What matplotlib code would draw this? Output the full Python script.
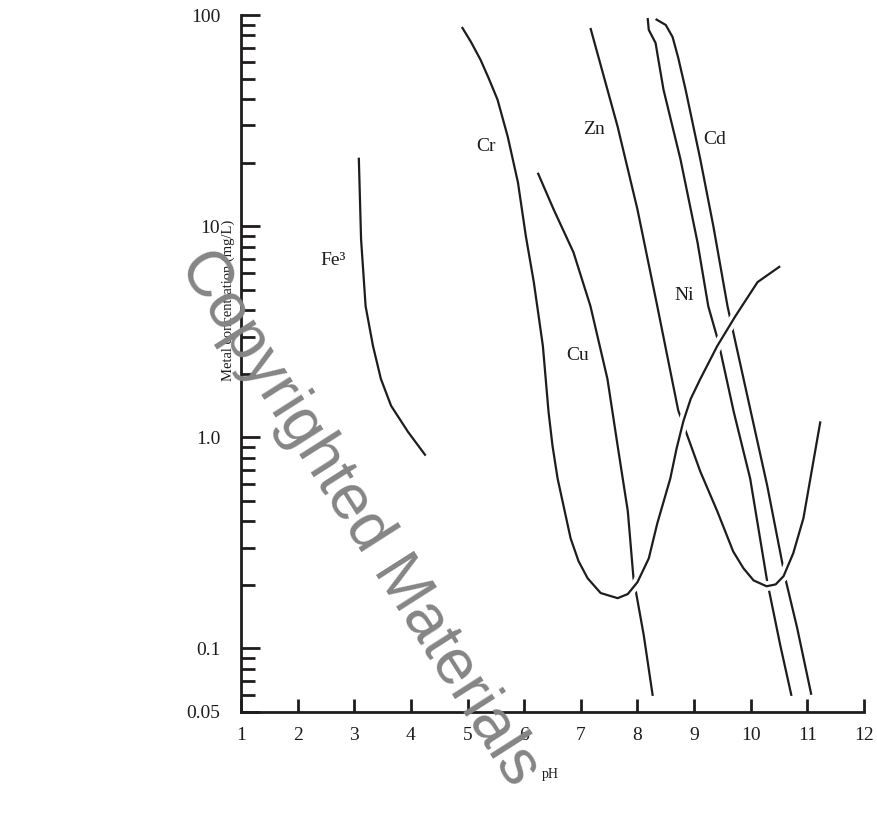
import matplotlib
matplotlib.use("Agg")
import matplotlib.pyplot as plt
import matplotlib.patheffects as pe
from matplotlib.ticker import LogLocator, NullFormatter

plt.rcParams['font.family'] = ['Liberation Serif', 'DejaVu Serif']

# curves (pH, metal concentration mg/L)
fe_ph = [3.08, 3.12, 3.20, 3.33, 3.47, 3.65, 3.95, 4.26]
fe_c = [21.1, 8.67, 4.18, 2.71, 1.89, 1.41, 1.06, 0.819]

cr_ph = [4.90, 5.06, 5.23, 5.37, 5.53, 5.71, 5.89, 6.03, 6.17, 6.33, 6.38, 6.43, 6.50,
         6.59, 6.82, 6.96, 7.12, 7.35, 7.65, 7.83, 8.00, 8.20, 8.35, 8.58, 8.69, 8.81,
         8.94, 9.11, 9.41, 9.73, 10.12, 10.52]
cr_c = [87.7, 74.6, 61.3, 50.4, 39.7, 26.5, 16.1, 8.95, 5.43, 2.71, 1.89, 1.32, 0.912,
        0.638, 0.332, 0.259, 0.215, 0.183, 0.173, 0.181, 0.206, 0.267, 0.391, 0.638, 0.883, 1.19,
        1.52, 1.89, 2.71, 3.75, 5.43, 6.46]

cu_ph = [6.24, 6.52, 6.87, 7.17, 7.47, 7.65, 7.83, 7.93, 8.11, 8.27]
cu_c = [17.9, 12.0, 7.52, 4.18, 1.89, 0.912, 0.446, 0.215, 0.116, 0.0596]

zn_ph = [7.17, 7.65, 8.00, 8.35, 8.72, 9.11, 9.41, 9.69, 9.87, 10.05, 10.28, 10.44,
         10.58, 10.75, 10.93, 11.23]
zn_c = [86.8, 29.6, 12.0, 4.18, 1.34, 0.688, 0.446, 0.288, 0.240, 0.210, 0.197, 0.201,
        0.220, 0.282, 0.413, 1.19]

ni_ph = [8.18, 8.20, 8.32, 8.37, 8.46, 8.76, 9.06, 9.25, 9.43, 9.70, 9.99, 10.29, 10.52, 10.72]
ni_c = [96.8, 85.0, 73.7, 61.3, 44.3, 20.7, 8.39, 4.18, 2.83, 1.32, 0.638, 0.208, 0.104, 0.0596]

cd_ph = [8.32, 8.50, 8.62, 8.72, 8.85, 9.11, 9.34, 9.59, 9.94, 10.29, 10.61, 10.82, 11.07]
cd_c = [95.7, 89.7, 78.7, 62.7, 44.3, 20.7, 10.0, 4.18, 1.57, 0.592, 0.215, 0.125, 0.0603]

# curve labels
label_text = ['Fe³', 'Cr', 'Cu', 'Zn', 'Ni', 'Cd']
label_ph = [2.62, 5.32, 6.94, 7.24, 8.83, 9.36]
label_c = [6.84, 23.8, 2.44, 28.7, 4.67, 25.7]

ytick_vals = [0.05, 0.1, 1, 10, 100]
ytick_text = ['0.05', '0.1', '1.0', '10', '100']
xtick_vals = list(range(1, 13))

ink = '#1e1c1c'

fig = plt.figure(figsize=(8.77, 8.25), dpi=100)
ax = fig.add_axes([241 / 877, 1 - 712 / 825, 623 / 877, 697 / 825])

halo = [pe.Stroke(linewidth=7, foreground='white'), pe.Normal()]
line_kw = dict(color=ink, lw=1.6, clip_on=False, solid_joinstyle='round',
               solid_capstyle='butt')

# lower curves first, the ones drawn on top get a white halo so crossings show gaps
ax.plot(fe_ph, fe_c, **line_kw)
ax.plot(ni_ph, ni_c, **line_kw)
ax.plot(cd_ph, cd_c, **line_kw)
ax.plot(cu_ph, cu_c, **line_kw)
ax.plot(zn_ph, zn_c, path_effects=halo, **line_kw)
ax.plot(cr_ph, cr_c, path_effects=halo, **line_kw)

for t, px, cy in zip(label_text, label_ph, label_c):
    ax.text(px, cy, t, fontsize=14, ha='center', va='center', color=ink)

ax.set_yscale('log')
ax.set_xlim(1, 12)
ax.set_ylim(0.05, 100)

ax.set_yticks(ytick_vals)
ax.set_yticklabels(ytick_text)
ax.yaxis.set_minor_locator(LogLocator(base=10, subs=[2, 3, 4, 5, 6, 7, 8, 9]))
ax.yaxis.set_minor_formatter(NullFormatter())
ax.set_xticks(xtick_vals)
ax.set_xticklabels([str(v) for v in xtick_vals])

ax.spines['top'].set_visible(False)
ax.spines['right'].set_visible(False)
ax.spines['left'].set_linewidth(2.0)
ax.spines['bottom'].set_linewidth(2.0)
ax.spines['left'].set_color(ink)
ax.spines['bottom'].set_color(ink)

ax.tick_params(axis='y', which='major', direction='in', length=14, width=2.0,
               pad=15, labelsize=14, colors=ink)
ax.tick_params(axis='y', which='minor', direction='in', length=10, width=2.0, colors=ink)
ax.tick_params(axis='x', which='major', direction='in', length=9.5, width=2.0,
               pad=11, labelsize=14, colors=ink)

ax.text(-0.021, 0.59, 'Metal concentration (mg/L)', transform=ax.transAxes,
        rotation=90, ha='center', va='center', fontsize=10.5, color=ink)
ax.text(0.496, -0.09, 'pH', transform=ax.transAxes, ha='center', va='center',
        fontsize=10, color=ink)

# watermark across the plot
fig.text(0.410, 0.372, 'Copyrighted Materials', rotation=-57.5, rotation_mode='anchor',
         ha='center', va='center', fontsize=46, color='#858585',
         family=['Liberation Sans', 'DejaVu Sans'])

fig.savefig('out.png', dpi=100)
